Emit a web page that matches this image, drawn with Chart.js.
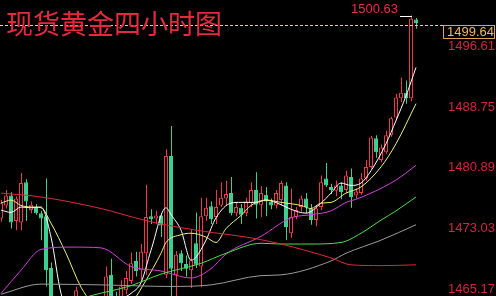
<!DOCTYPE html>
<html>
<head>
<meta charset="utf-8">
<script src="https://cdn.jsdelivr.net/npm/chart.js@4/dist/chart.umd.min.js"></script>
<style>
  html, body { margin: 0; padding: 0; background: #000; }
  canvas { display: block; background: #000; }
</style>
</head>
<body>
<canvas id="chart" width="496" height="296"></canvas>
<script>
// 现货黄金 4小时K线
const title = "现货黄金四小时图";

const opens = [
  1474.3, 1476.0, 1477.3, 1474.0, 1473.8, 1479.0, 1475.4, 1475.8, 1475.0, 1474.6,
  1467.9, 1462.5, 1460.8, 1459.5, 1460.9, 1459.0, 1463.8, 1461.5, 1460.0, 1461.8,
  1460.6, 1462.5, 1467.0, 1464.0, 1464.0, 1465.0, 1466.2, 1468.8, 1467.6, 1469.8,
  1474.6, 1474.3, 1474.7, 1467.0, 1482.4, 1467.0, 1469.8, 1468.4, 1467.6, 1471.1,
  1468.1, 1474.6, 1475.9, 1474.5, 1476.0, 1476.9, 1477.6, 1475.0, 1475.7, 1475.0,
  1476.3, 1478.0, 1476.1, 1477.4, 1476.5, 1476.0, 1476.7, 1478.6, 1472.4, 1474.5,
  1475.8, 1476.9, 1475.6, 1474.1, 1475.8, 1479.5, 1478.4, 1477.9, 1478.6, 1478.0,
  1479.7, 1477.3, 1477.6, 1479.5, 1481.0, 1484.7, 1481.9, 1482.9, 1485.1, 1487.4,
  1489.9, 1490.6, 1489.9, 1500.1
];
const closes = [
  1476.3, 1477.3, 1473.8, 1476.9, 1478.9, 1476.5, 1476.1, 1475.0, 1474.3, 1467.6,
  1462.5, 1460.8, 1459.5, 1460.9, 1459.0, 1465.0, 1461.5, 1460.0, 1461.8, 1460.6,
  1462.8, 1466.8, 1464.0, 1463.2, 1465.5, 1466.6, 1468.5, 1467.5, 1470.0, 1474.5,
  1474.2, 1474.7, 1473.4, 1482.4, 1467.8, 1469.6, 1468.5, 1467.8, 1468.9, 1468.3,
  1474.6, 1475.7, 1474.2, 1475.8, 1477.0, 1477.5, 1475.0, 1475.8, 1474.8, 1476.5,
  1478.0, 1476.1, 1477.6, 1476.5, 1476.0, 1477.6, 1478.9, 1473.2, 1474.5, 1475.4,
  1476.9, 1475.8, 1474.1, 1475.6, 1479.0, 1478.6, 1478.0, 1478.6, 1477.7, 1479.9,
  1477.1, 1477.8, 1479.5, 1481.0, 1484.8, 1482.9, 1483.5, 1485.1, 1487.3, 1490.0,
  1490.6, 1489.9, 1500.2, 1499.64
];
const highs = [
  1476.7, 1478.0, 1477.7, 1477.2, 1480.2, 1479.4, 1476.5, 1476.2, 1475.3, 1479.5,
  1468.6, 1463.2, 1462.0, 1461.8, 1462.3, 1465.5, 1463.9, 1462.3, 1462.6, 1463.0,
  1463.5, 1468.1, 1469.1, 1464.8, 1466.3, 1467.5, 1469.9, 1470.0, 1471.0, 1478.7,
  1475.5, 1475.3, 1475.0, 1483.3, 1486.3, 1470.1, 1470.2, 1469.5, 1472.9, 1475.1,
  1477.0, 1477.0, 1476.5, 1478.0, 1479.0, 1479.2, 1479.7, 1476.4, 1476.2, 1477.0,
  1479.0, 1480.3, 1478.5, 1478.4, 1476.9, 1478.0, 1479.2, 1479.0, 1478.2, 1475.8,
  1477.3, 1477.6, 1476.2, 1476.0, 1479.9, 1481.5, 1478.8, 1479.2, 1479.0, 1480.5,
  1480.8, 1478.2, 1480.2, 1481.9, 1485.0, 1485.1, 1483.9, 1485.7, 1487.5, 1490.5,
  1492.6, 1492.2, 1500.63, 1500.3
];
const lows = [
  1473.9, 1475.6, 1473.0, 1472.8, 1472.8, 1474.0, 1475.0, 1474.8, 1471.5, 1465.5,
  1461.0, 1459.5, 1458.2, 1458.6, 1457.8, 1458.5, 1460.0, 1458.9, 1459.4, 1459.8,
  1460.0, 1461.8, 1462.5, 1462.0, 1463.0, 1464.5, 1465.8, 1466.8, 1466.0, 1467.0,
  1473.6, 1473.6, 1471.9, 1466.6, 1463.0, 1464.0, 1467.5, 1466.8, 1465.3, 1467.9,
  1465.4, 1474.0, 1473.6, 1473.6, 1475.8, 1476.0, 1474.7, 1474.6, 1473.6, 1474.6,
  1475.8, 1474.3, 1474.5, 1474.6, 1475.5, 1475.6, 1476.0, 1471.5, 1471.8, 1474.2,
  1475.2, 1475.0, 1473.5, 1473.3, 1475.4, 1478.4, 1477.5, 1477.2, 1476.8, 1477.6,
  1475.7, 1476.9, 1477.4, 1479.2, 1480.8, 1482.2, 1481.6, 1482.7, 1484.9, 1487.0,
  1489.4, 1489.2, 1489.5, 1498.9
];

// 均线 [K线序号, 数值]，读自原图
const ma5 = [[0,1475.4],[2,1475.1],[4,1475.8],[6,1475.7],[8,1475.8],[10,1471.9],[12,1464.6],
  [14,1462.0],[16,1461.2],[18,1460.6],[20,1461.3],[22,1462.6],[24,1463.8],[26,1464.6],
  [28,1466.0],[30,1470.2],[33,1475.7],[34,1474.8],[36,1472.8],[38,1468.9],[39,1469.3],
  [41,1471.5],[43,1474.4],[46,1476.3],[48,1476.4],[51,1476.4],[53,1476.7],[56,1476.1],
  [58,1475.5],[61,1475.0],[64,1476.3],[66,1477.6],[68,1478.9],[70,1478.6],[72,1478.9],
  [74,1480.5],[77,1484.0],[79,1487.0],[81,1490.2],[83,1493.9]];
const ma10 = [[0,1476.3],[2,1476.7],[4,1476.0],[6,1475.8],[8,1475.7],[10,1473.7],[13,1469.8],
  [16,1465.4],[18,1463.5],[20,1462.2],[22,1461.6],[24,1461.9],[26,1463.2],[29,1466.3],
  [32,1469.8],[33,1471.2],[36,1472.2],[38,1472.4],[41,1471.9],[43,1471.2],[45,1473.0],
  [48,1474.7],[50,1476.0],[53,1476.7],[56,1476.4],[60,1476.0],[62,1475.6],[64,1476.3],
  [66,1476.4],[69,1477.6],[72,1478.4],[76,1481.0],[79,1484.0],[83,1489.2]];
const ma20 = [[0,1464.6],[4,1467.6],[8,1470.3],[14,1470.6],[20,1470.5],[26,1468.1],[32,1467.5],
  [38,1466.6],[42,1467.8],[45,1469.7],[52,1472.0],[58,1474.4],[62,1474.8],[66,1475.3],
  [69,1476.4],[71,1476.8],[74,1477.6],[79,1479.3],[83,1481.2]];
const ma40 = [[0,1461.0],[8,1462.5],[16,1463.9],[18,1464.3],[26,1465.6],[32,1467.1],[40,1468.5],
  [45,1469.8],[52,1471.1],[56,1471.0],[62,1471.0],[68,1471.2],[72,1472.4],[76,1474.1],
  [79,1475.3],[83,1477.1]];
const ma60 = [[0,1464.5],[8,1465.8],[20,1465.7],[34,1465.5],[42,1465.7],[52,1466.9],[56,1467.0],
  [66,1468.8],[69,1469.8],[76,1471.5],[83,1473.5]];
const ma120 = [[0,1477.6],[8,1477.1],[20,1475.6],[28,1474.2],[32,1473.6],[40,1472.7],[50,1471.8],
  [56,1471.0],[66,1469.2],[70,1468.3],[76,1468.2],[83,1468.3]];

const yTicks = [1465.17, 1473.03, 1480.89, 1488.75, 1496.61];
const lastPrice = 1499.64;
const highPrice = 1500.63;
const highIndex = 82;

const RED = "#f0384c";
const GREEN = "#3ccf8e";

const up = closes.map((c, i) => c >= opens[i]);

function maLine(points, color) {
  return {
    type: "line",
    data: points.map(p => ({ x: p[0], y: p[1] })),
    borderColor: color,
    borderWidth: 1,
    pointRadius: 0,
    cubicInterpolationMode: "monotone",
    order: 1
  };
}

const overlay = {
  id: "overlay",
  beforeDatasetDraw(chart, args) {
    if (args.index === 0) { chart.ctx.save(); chart.ctx.translate(0.5, 0); }
  },
  afterDatasetDraw(chart, args) {
    if (args.index === 0) chart.ctx.restore();
  },
  afterDraw(chart) {
    const ctx = chart.ctx;
    const xs = chart.scales.x, ys = chart.scales.y;

    // 现价虚线
    const py = Math.round(ys.getPixelForValue(lastPrice)) + 2.5;
    ctx.save();
    ctx.strokeStyle = "#f0c8a0";
    ctx.lineWidth = 1;
    ctx.setLineDash([3, 2]);
    ctx.beginPath();
    ctx.moveTo(0, py);
    ctx.lineTo(443, py);
    ctx.stroke();
    ctx.setLineDash([]);

    // 现价标签
    ctx.strokeStyle = "#e0a050";
    ctx.strokeRect(443.5, py, 51, 13);
    ctx.fillStyle = "#f0b868";
    ctx.font = '13px "Liberation Sans", Arial, sans-serif';
    ctx.textBaseline = "middle";
    ctx.textAlign = "left";
    ctx.fillText(lastPrice.toFixed(2), 447, py + 7);

    // 最高价
    const hx = xs.getPixelForValue(highIndex);
    const hy = Math.round(ys.getPixelForValue(highPrice)) + 0.5;
    ctx.strokeStyle = "#ffffff";
    ctx.beginPath();
    ctx.moveTo(hx - 11, hy);
    ctx.lineTo(hx + 1, hy);
    ctx.stroke();
    ctx.fillStyle = "#e8304a";
    ctx.textAlign = "right";
    ctx.fillText(highPrice.toFixed(2), hx - 13, hy - 7);

    // 标题
    ctx.textAlign = "left";
    ctx.fillStyle = "#e62a3c";
    ctx.font = '27px "Noto Sans CJK SC", sans-serif';
    ctx.fillText(title, 6, 24);
    ctx.restore();
  }
};

new Chart(document.getElementById("chart"), {
  type: "bar",
  data: {
    datasets: [
      {
        // 影线
        data: lows.map((l, i) => ({ x: i, y: [l, highs[i]] })),
        backgroundColor: up.map(u => u ? RED : GREEN),
        barThickness: 1,
        grouped: false,
        inflateAmount: 0,
        order: 3
      },
      {
        // 实体
        data: opens.map((o, i) => ({ x: i, y: [o, closes[i]] })),
        backgroundColor: up.map(u => u ? "#000000" : GREEN),
        borderColor: up.map(u => u ? RED : GREEN),
        borderWidth: 1,
        borderSkipped: false,
        barThickness: 4,
        grouped: false,
        inflateAmount: 0,
        order: 2
      },
      maLine(ma120, "#e02838"),
      maLine(ma60, "#9a9a9a"),
      maLine(ma40, "#48e048"),
      maLine(ma20, "#d040d8"),
      maLine(ma10, "#f0f080"),
      maLine(ma5, "#ffffff")
    ]
  },
  options: {
    responsive: false,
    animation: false,
    layout: { padding: 0 },
    plugins: { legend: { display: false }, tooltip: { enabled: false } },
    scales: {
      x: { type: "linear", min: -0.2, max: 83.8, offset: false, display: false },
      y: {
        position: "right",
        min: 1464.26,
        max: 1502.64,
        bounds: "data",
        border: { display: false },
        grid: { display: false, drawTicks: false },
        ticks: {
          color: "#d0283c",
          padding: 28,
          font: { family: '"Liberation Sans", Arial, sans-serif', size: 13 },
          callback: v => v.toFixed(2)
        },
        afterBuildTicks: s => { s.ticks = yTicks.map(v => ({ value: v })); },
        afterFit: s => { s.width = 76; s.paddingTop = 0; s.paddingBottom = 0; }
      }
    }
  },
  plugins: [overlay]
});
</script>
</body>
</html>
